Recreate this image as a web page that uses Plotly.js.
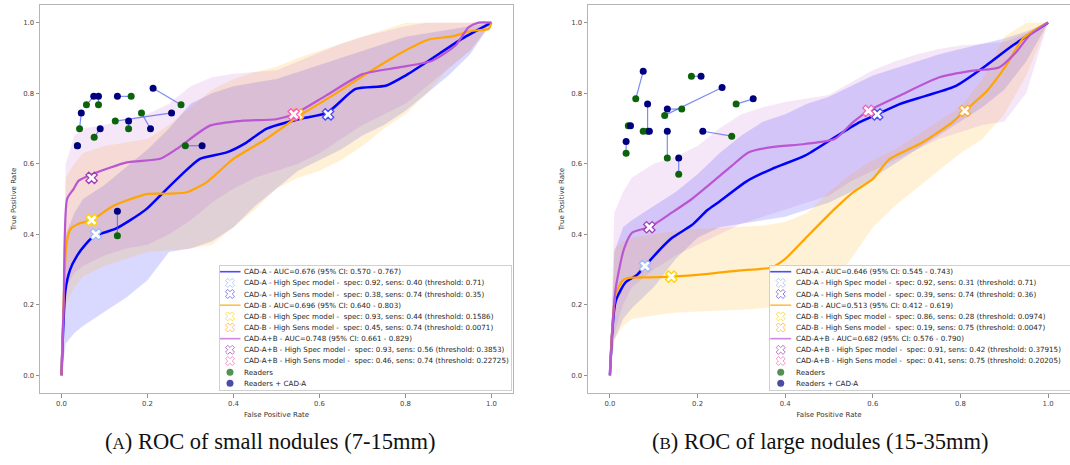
<!DOCTYPE html>
<html><head><meta charset="utf-8">
<script src="https://cdn.plot.ly/plotly-3.0.1.min.js"></script>
<style>html,body{margin:0;padding:0;background:#fff}#chart{width:1070px;height:465px}</style>
</head><body><div id="chart"></div>
<script>
// ================= DATA =================
const bandFpr = [0, 0.01, 0.03, 0.05, 0.1, 0.15, 0.2, 0.25, 0.3, 0.35, 0.4, 0.45, 0.5, 0.55, 0.6, 0.65, 0.7, 0.75, 0.8, 0.85, 0.9, 0.95, 1.0];

// ---- Panel A: small nodules ----
const aCadAFpr = [0, 0.009, 0.02, 0.036, 0.055, 0.077, 0.1, 0.125, 0.16, 0.198, 0.237, 0.28, 0.322, 0.384, 0.43, 0.476, 0.553, 0.617, 0.684, 0.754, 0.8, 0.854, 0.931, 1.0];
const aCadATpr = [0, 0.24, 0.30, 0.339, 0.37, 0.396, 0.405, 0.415, 0.44, 0.472, 0.519, 0.57, 0.614, 0.632, 0.66, 0.699, 0.727, 0.744, 0.812, 0.821, 0.85, 0.892, 0.954, 1.0];
const aCadBFpr = [0, 0.012, 0.021, 0.04, 0.07, 0.121, 0.198, 0.25, 0.291, 0.337, 0.399, 0.476, 0.553, 0.63, 0.708, 0.785, 0.854, 0.908, 0.955, 0.993, 1.0];
const aCadBTpr = [0, 0.377, 0.415, 0.43, 0.44, 0.481, 0.514, 0.515, 0.519, 0.547, 0.613, 0.670, 0.736, 0.793, 0.854, 0.911, 0.952, 0.961, 0.977, 0.982, 1.0];
const aCadABFpr = [0, 0.005, 0.013, 0.028, 0.04, 0.075, 0.152, 0.229, 0.268, 0.345, 0.422, 0.499, 0.54, 0.615, 0.700, 0.785, 0.862, 0.916, 0.947, 0.970, 1.0];
const aCadABTpr = [0, 0.2, 0.5, 0.528, 0.552, 0.572, 0.604, 0.614, 0.642, 0.708, 0.722, 0.726, 0.74, 0.793, 0.854, 0.873, 0.892, 0.935, 0.987, 1.0, 1.0];

const aCadAUpper = [0, 0.40, 0.46, 0.50, 0.54, 0.59, 0.64, 0.70, 0.77, 0.80, 0.82, 0.83, 0.84, 0.86, 0.88, 0.90, 0.92, 0.94, 0.96, 0.97, 0.98, 0.99, 1.0];
const aCadALower = [0, 0.09, 0.12, 0.14, 0.18, 0.22, 0.27, 0.35, 0.36, 0.38, 0.42, 0.48, 0.53, 0.58, 0.61, 0.64, 0.68, 0.71, 0.75, 0.80, 0.85, 0.91, 1.0];
const aCadBUpper = [0, 0.56, 0.60, 0.63, 0.65, 0.66, 0.67, 0.71, 0.76, 0.81, 0.84, 0.86, 0.875, 0.90, 0.92, 0.94, 0.96, 0.98, 1.0, 1.0, 1.0, 1.0, 1.0];
const aCadBLower = [0, 0.20, 0.25, 0.28, 0.31, 0.33, 0.35, 0.355, 0.36, 0.37, 0.42, 0.47, 0.53, 0.56, 0.58, 0.61, 0.65, 0.70, 0.74, 0.80, 0.87, 0.92, 1.0];
const aCadABUpper = [0, 0.60, 0.68, 0.70, 0.71, 0.725, 0.74, 0.77, 0.82, 0.845, 0.855, 0.86, 0.865, 0.89, 0.915, 0.94, 0.96, 0.975, 0.99, 1.0, 1.0, 1.0, 1.0];
const aCadABLower = [0, 0.25, 0.29, 0.31, 0.34, 0.36, 0.37, 0.40, 0.44, 0.49, 0.53, 0.56, 0.58, 0.60, 0.63, 0.67, 0.71, 0.74, 0.77, 0.82, 0.87, 0.92, 1.0];

// operating points (CAD-A, CAD-B, CAD-A+B)
const aSpecHigh = [0.92, 0.93, 0.93];      // High Spec model specificity
const aSensHigh = [0.40, 0.44, 0.56];
const aSpecSens = [0.38, 0.45, 0.46];      // High Sens model specificity
const aSensSens = [0.74, 0.74, 0.74];

const aReadersFpr = [0.042, 0.058, 0.086, 0.076, 0.162, 0.125, 0.156, 0.186, 0.278, 0.288, 0.130, 0.037];
const aReadersTpr = [0.699, 0.767, 0.767, 0.675, 0.791, 0.721, 0.699, 0.744, 0.767, 0.651, 0.396, 0.651];
const aReadersCadFpr = [0.046, 0.075, 0.086, 0.090, 0.130, 0.256, 0.156, 0.207, 0.213, 0.327, 0.130, 0.037];
const aReadersCadTpr = [0.744, 0.791, 0.791, 0.699, 0.791, 0.744, 0.721, 0.699, 0.814, 0.651, 0.465, 0.651];

const aLegendLabels = [
  "CAD-A - AUC=0.676 (95% CI: 0.570 - 0.767)",
  "CAD-A - High Spec model -  spec: 0.92, sens: 0.40 (threshold: 0.71)",
  "CAD-A - High Sens model -  spec: 0.38, sens: 0.74 (threshold: 0.35)",
  "CAD-B - AUC=0.696 (95% CI: 0.640 - 0.803)",
  "CAD-B - High Spec model -  spec: 0.93, sens: 0.44 (threshold: 0.1586)",
  "CAD-B - High Sens model -  spec: 0.45, sens: 0.74 (threshold: 0.0071)",
  "CAD-A+B - AUC=0.748 (95% CI: 0.661 - 0.829)",
  "CAD-A+B - High Spec model -  spec: 0.93, sens: 0.56 (threshold: 0.3853)",
  "CAD-A+B - High Sens model -  spec: 0.46, sens: 0.74 (threshold: 0.22725)",
  "Readers",
  "Readers + CAD-A"
];

// ---- Panel B: large nodules ----
const bCadAFpr = [0, 0.013, 0.036, 0.062, 0.08, 0.115, 0.142, 0.187, 0.222, 0.248, 0.312, 0.369, 0.445, 0.513, 0.570, 0.61, 0.661, 0.722, 0.790, 0.858, 0.919, 1.0];
const bCadATpr = [0, 0.21, 0.264, 0.285, 0.31, 0.358, 0.390, 0.426, 0.468, 0.491, 0.550, 0.585, 0.623, 0.675, 0.718, 0.74, 0.769, 0.793, 0.821, 0.878, 0.935, 1.0];
const bCadBFpr = [0, 0.013, 0.030, 0.047, 0.093, 0.14, 0.218, 0.293, 0.369, 0.40, 0.445, 0.513, 0.555, 0.6, 0.638, 0.714, 0.782, 0.81, 0.858, 0.904, 0.942, 0.98, 1.0];
const bCadBTpr = [0, 0.23, 0.27, 0.277, 0.278, 0.28, 0.287, 0.297, 0.306, 0.33, 0.387, 0.472, 0.519, 0.557, 0.613, 0.661, 0.718, 0.75, 0.803, 0.878, 0.954, 0.987, 1.0];
const bCadABFpr = [0, 0.005, 0.013, 0.032, 0.051, 0.09, 0.142, 0.187, 0.233, 0.278, 0.316, 0.369, 0.445, 0.513, 0.555, 0.59, 0.661, 0.752, 0.828, 0.888, 0.927, 0.957, 1.0];
const bCadABTpr = [0, 0.12, 0.245, 0.358, 0.405, 0.42, 0.462, 0.50, 0.547, 0.594, 0.632, 0.647, 0.656, 0.670, 0.718, 0.75, 0.793, 0.845, 0.864, 0.873, 0.916, 0.963, 1.0];

const bCadAUpper = [0, 0.35, 0.42, 0.44, 0.48, 0.52, 0.57, 0.63, 0.68, 0.72, 0.74, 0.77, 0.79, 0.82, 0.85, 0.87, 0.89, 0.91, 0.925, 0.94, 0.955, 0.975, 1.0];
const bCadALower = [0, 0.10, 0.16, 0.19, 0.25, 0.33, 0.39, 0.42, 0.43, 0.44, 0.45, 0.47, 0.49, 0.52, 0.56, 0.60, 0.64, 0.68, 0.72, 0.76, 0.81, 0.89, 1.0];
const bCadBUpper = [0, 0.36, 0.38, 0.39, 0.40, 0.41, 0.415, 0.418, 0.42, 0.425, 0.435, 0.46, 0.52, 0.57, 0.61, 0.64, 0.68, 0.72, 0.76, 0.84, 0.96, 1.0, 1.0];
const bCadBLower = [0, 0.10, 0.14, 0.16, 0.17, 0.178, 0.18, 0.183, 0.186, 0.19, 0.20, 0.22, 0.25, 0.33, 0.42, 0.48, 0.53, 0.58, 0.63, 0.67, 0.74, 0.85, 1.0];
const bCadABUpper = [0, 0.46, 0.52, 0.56, 0.60, 0.62, 0.65, 0.70, 0.74, 0.76, 0.775, 0.785, 0.795, 0.83, 0.865, 0.89, 0.91, 0.925, 0.935, 0.94, 0.945, 0.97, 1.0];
const bCadABLower = [0, 0.12, 0.20, 0.25, 0.30, 0.34, 0.37, 0.40, 0.43, 0.45, 0.47, 0.49, 0.51, 0.55, 0.58, 0.61, 0.64, 0.67, 0.69, 0.71, 0.72, 0.80, 1.0];

const bSpecHigh = [0.92, 0.86, 0.91];
const bSensHigh = [0.31, 0.28, 0.42];
const bSpecSens = [0.39, 0.19, 0.41];
const bSensSens = [0.74, 0.75, 0.75];

const bReadersFpr = [0.059, 0.186, 0.125, 0.164, 0.288, 0.042, 0.086, 0.076, 0.131, 0.278, 0.037, 0.157];
const bReadersTpr = [0.784, 0.848, 0.737, 0.755, 0.769, 0.708, 0.692, 0.692, 0.616, 0.678, 0.630, 0.570];
const bReadersCadFpr = [0.076, 0.208, 0.256, 0.131, 0.327, 0.047, 0.086, 0.090, 0.131, 0.212, 0.037, 0.157];
const bReadersCadTpr = [0.862, 0.848, 0.816, 0.755, 0.784, 0.708, 0.769, 0.692, 0.692, 0.692, 0.663, 0.616];

const bLegendLabels = [
  "CAD-A - AUC=0.646 (95% CI: 0.545 - 0.743)",
  "CAD-A - High Spec model -  spec: 0.92, sens: 0.31 (threshold: 0.71)",
  "CAD-A - High Sens model -  spec: 0.39, sens: 0.74 (threshold: 0.36)",
  "CAD-B - AUC=0.513 (95% CI: 0.412 - 0.619)",
  "CAD-B - High Spec model -  spec: 0.86, sens: 0.28 (threshold: 0.0974)",
  "CAD-B - High Sens model -  spec: 0.19, sens: 0.75 (threshold: 0.0047)",
  "CAD-A+B - AUC=0.682 (95% CI: 0.576 - 0.790)",
  "CAD-A+B - High Spec model -  spec: 0.91, sens: 0.42 (threshold: 0.37915)",
  "CAD-A+B - High Sens model -  spec: 0.41, sens: 0.75 (threshold: 0.20205)",
  "Readers",
  "Readers + CAD-A"
];

const tickVals = [0, 0.2, 0.4, 0.6, 0.8, 1.0];
const captions = ["ROC of small nodules (7-15mm)", "ROC of large nodules (15-35mm)"];
const captionTags = ["A", "B"];

// ================= STYLE =================
const C = {
  blue: '#0000ff', orange: '#ffa500', purple: '#ba55d3',
  blueBand: 'rgba(0,0,255,0.15)', orangeBand: 'rgba(255,165,0,0.16)', purpleBand: 'rgba(186,85,211,0.15)',
  aSpec: '#9fb6f5', aSens: '#4b4bf0', bSpec: '#ffd400', bSens: '#ffaa33', abSpec: '#a33cb8', abSens: '#ff5fb0',
  green: '#0b640b', navy: '#00007f', link: 'rgba(70,90,240,0.7)'
};
const FONT = '"DejaVu Sans", sans-serif';
const W = 1070, H = 465;

function band(x, up, lo, color, xa, ya) {
  return { x: x.concat(x.slice().reverse()), y: up.concat(lo.slice().reverse()),
    type: 'scatter', mode: 'lines', fill: 'toself', fillcolor: color,
    line: { width: 0 }, hoverinfo: 'skip', xaxis: xa, yaxis: ya };
}
function curve(x, y, color, w, xa, ya) {
  return { x, y, type: 'scatter', mode: 'lines', line: { color, width: w, shape: 'spline', smoothing: 0.6 },
    xaxis: xa, yaxis: ya };
}
function opPoints(spec, sens, colors, xa, ya) {
  return { x: spec.map(s => 1 - s), y: sens, type: 'scatter', mode: 'markers', xaxis: xa, yaxis: ya,
    marker: { symbol: 'x', size: 10, color: '#ffffff', line: { color: colors, width: 1.3 } }, cliponaxis: false };
}
function readers(gx, gy, nx, ny, xa, ya) {
  const lx = [], ly = [];
  for (let i = 0; i < gx.length; i++) { lx.push(gx[i], nx[i], null); ly.push(gy[i], ny[i], null); }
  return [
    { x: lx, y: ly, type: 'scatter', mode: 'lines', line: { color: C.link, width: 1.2 }, xaxis: xa, yaxis: ya },
    { x: gx, y: gy, type: 'scatter', mode: 'markers', marker: { color: C.green, size: 7 }, xaxis: xa, yaxis: ya },
    { x: nx, y: ny, type: 'scatter', mode: 'markers', marker: { color: C.navy, size: 7 }, xaxis: xa, yaxis: ya }
  ];
}
function panel(d, xa, ya) {
  const specCols = [C.aSpec, C.bSpec, C.abSpec];
  const sensCols = [C.aSens, C.bSens, C.abSens];
  return [
    band(bandFpr, d.aU, d.aL, C.blueBand, xa, ya),
    band(bandFpr, d.bU, d.bL, C.orangeBand, xa, ya),
    band(bandFpr, d.abU, d.abL, C.purpleBand, xa, ya),
    curve(d.aX, d.aY, C.blue, 2.5, xa, ya),
    curve(d.bX, d.bY, C.orange, 2.2, xa, ya),
    curve(d.abX, d.abY, C.purple, 2.2, xa, ya),
    opPoints(d.specH, d.sensH, specCols, xa, ya),
    opPoints(d.specS, d.sensS, sensCols, xa, ya),
    ...readers(d.rgx, d.rgy, d.rnx, d.rny, xa, ya)
  ];
}

const traces = [
  ...panel({ aX: aCadAFpr, aY: aCadATpr, bX: aCadBFpr, bY: aCadBTpr, abX: aCadABFpr, abY: aCadABTpr,
    aU: aCadAUpper, aL: aCadALower, bU: aCadBUpper, bL: aCadBLower, abU: aCadABUpper, abL: aCadABLower,
    specH: aSpecHigh, sensH: aSensHigh, specS: aSpecSens, sensS: aSensSens,
    rgx: aReadersFpr, rgy: aReadersTpr, rnx: aReadersCadFpr, rny: aReadersCadTpr }, 'x', 'y'),
  ...panel({ aX: bCadAFpr, aY: bCadATpr, bX: bCadBFpr, bY: bCadBTpr, abX: bCadABFpr, abY: bCadABTpr,
    aU: bCadAUpper, aL: bCadALower, bU: bCadBUpper, bL: bCadBLower, abU: bCadABUpper, abL: bCadABLower,
    specH: bSpecHigh, sensH: bSensHigh, specS: bSpecSens, sensS: bSensSens,
    rgx: bReadersFpr, rgy: bReadersTpr, rnx: bReadersCadFpr, rny: bReadersCadTpr }, 'x2', 'y2')
];

// ---- legend boxes (drawn as small overlay subplots) ----
const legendTop = 266, legendBottom = 390, rowGap = 11.16, rowFirst = 5.7;
const swSymbols = ['line-ew', 'x', 'x', 'line-ew', 'x', 'x', 'line-ew', 'x', 'x', 'circle', 'circle'];
const swFill = ['#fff', '#fff', '#fff', '#fff', '#fff', '#fff', '#fff', '#fff', '#fff', C.green, C.navy];
const swLine = [C.blue, C.aSpec, C.aSens, C.orange, C.bSpec, C.bSens, C.purple, C.abSpec, C.abSens, C.green, C.navy];
const swLineW = [1.6, 1, 1, 1.6, 1, 1, 1.6, 1, 1, 0, 0];
const swSize = [15, 8, 8, 15, 8, 8, 15, 8, 8, 7, 7];
const rows = swSymbols.map((_, i) => rowFirst + rowGap * i);

const legends = [
  { swX: 10, txtX: 22.3, labels: aLegendLabels, xa: 'x3', ya: 'y3' },
  { swX: 10.7, txtX: 24, labels: bLegendLabels, xa: 'x4', ya: 'y4' }
];
const annotations = [];
legends.forEach(L => {
  traces.push({ x: rows.map(() => L.swX), y: rows, type: 'scatter', mode: 'markers', xaxis: L.xa, yaxis: L.ya,
    cliponaxis: false,
    marker: { symbol: swSymbols, size: swSize, color: swFill, line: { color: swLine, width: swLineW } } });
  L.labels.forEach((t, i) => annotations.push({
    text: t.replace(/  /g, ' \u00a0'), xref: L.xa, yref: L.ya, x: L.txtX, y: rows[i],
    xanchor: 'left', yanchor: 'middle', showarrow: false,
    font: { family: FONT, size: 7.15, color: '#262626' }
  }));
});

// captions
[270, 820].forEach((cx, i) => annotations.push({
  text: '(<span style="font-size:17px">' + captionTags[i] + '</span>) ' + captions[i],
  xref: 'paper', yref: 'paper', x: cx / W, y: (H - 441) / H, xanchor: 'center', yanchor: 'middle',
  showarrow: false, font: { family: 'Liberation Serif, serif', size: 22.5, color: '#111' }
}));

function mainX(d0, d1) {
  return { domain: [d0 / W, d1 / W], range: [-0.05, 1.05], showline: true, mirror: true, linecolor: '#b5b5b5',
    linewidth: 1, ticks: 'outside', ticklen: 3.5, tickwidth: 0.8, tickcolor: '#777', showgrid: false,
    zeroline: false, tickvals: tickVals, tickformat: '.1f', automargin: false,
    tickfont: { family: FONT, size: 6.9, color: '#444' },
    title: { text: 'False Positive Rate', font: { family: FONT, size: 7, color: '#333' }, standoff: 5 } };
}
function mainY(anchor) {
  return { domain: [(H - 393) / H, (H - 5) / H], range: [-0.05, 1.05], showline: true, mirror: true,
    linecolor: '#b5b5b5', linewidth: 1, ticks: 'outside', ticklen: 3.5, tickwidth: 0.8, tickcolor: '#777',
    showgrid: false, zeroline: false, tickvals: tickVals, tickformat: '.1f', automargin: false, anchor,
    tickfont: { family: FONT, size: 6.9, color: '#444' },
    title: { text: 'True Positive Rate', font: { family: FONT, size: 7, color: '#333' }, standoff: 5 } };
}
function legAxis(d0, d1, rng, anchor) {
  return { domain: [d0, d1], range: rng, showline: true, mirror: true, linecolor: '#d0d0d0', linewidth: 1,
    showticklabels: false, ticks: '', showgrid: false, zeroline: false, fixedrange: true, anchor, automargin: false };
}

const layout = {
  width: W, height: H, margin: { l: 0, r: 0, t: 0, b: 0 },
  paper_bgcolor: '#ffffff', plot_bgcolor: 'rgba(255,255,255,0.82)', showlegend: false,
  font: { family: FONT },
  xaxis: Object.assign(mainX(40, 513), { anchor: 'y' }),
  yaxis: mainY('x'),
  xaxis2: Object.assign(mainX(588, 1070), { anchor: 'y2' }),
  yaxis2: mainY('x2'),
  xaxis3: legAxis(220 / W, 511 / W, [0, 291], 'y3'),
  yaxis3: legAxis((H - legendBottom) / H, (H - legendTop) / H, [legendBottom - legendTop, 0], 'x3'),
  xaxis4: legAxis(770 / W, 1, [0, 300], 'y4'),
  yaxis4: legAxis((H - legendBottom) / H, (H - legendTop) / H, [legendBottom - legendTop, 0], 'x4'),
  annotations
};

Plotly.newPlot('chart', traces, layout, { staticPlot: true, displayModeBar: false });
</script>
</body></html>
